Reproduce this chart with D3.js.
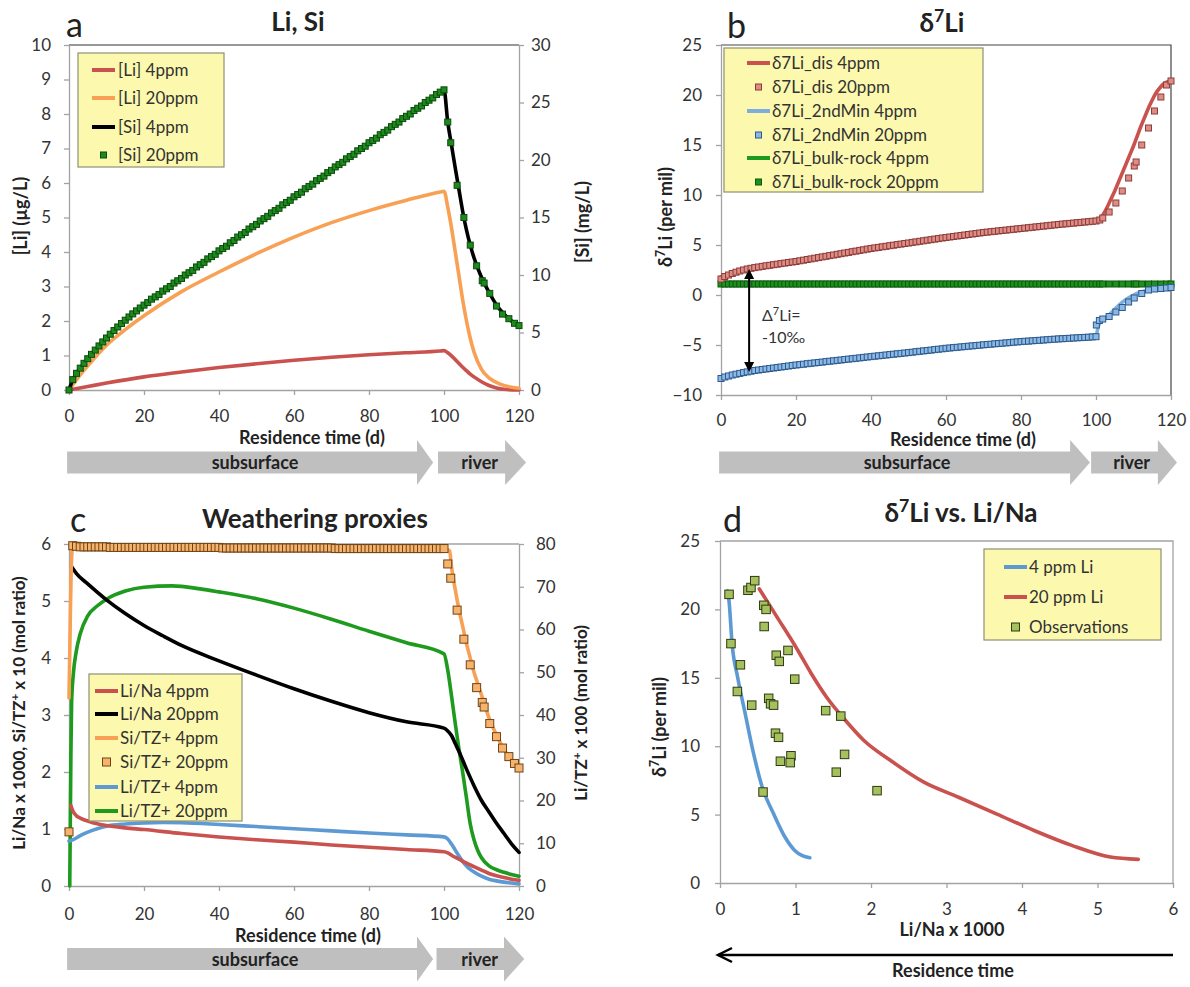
<!DOCTYPE html>
<html><head><meta charset="utf-8">
<script src="https://cdn.jsdelivr.net/npm/d3@7"></script>
<style>body{margin:0;background:#fff}</style>
</head><body>
<script>
// ---------------- DATA ----------------
const timeTicks=[0,20,40,60,80,100,120];
const liTicksA=[0,1,2,3,4,5,6,7,8,9,10];
const siTicksA=[0,5,10,15,20,25,30];
const d7TicksB=[-10,-5,0,5,10,15,20,25];
const ratioTicksC=[0,1,2,3,4,5,6];
const liTzTicksC=[0,10,20,30,40,50,60,70,80];
const liNaTicksD=[0,1,2,3,4,5,6];
const d7TicksD=[0,5,10,15,20,25];

// model output days for the 20 ppm marker series
const dayGrid=[0,1,2,3,4,5,6,7,8,9,10,11,12,13,14,15,16,17,18,19,20,21,22,23,24,25,26,27,28,29,30,31,32,33,34,35,36,37,38,39,40,41,42,43,44,45,46,47,48,49,50,51,52,53,54,55,56,57,58,59,60,61,62,63,64,65,66,67,68,69,70,71,72,73,74,75,76,77,78,79,80,81,82,83,84,85,86,87,88,89,90,91,92,93,94,95,96,97,98,99,100];
const postDays=[101,101.8,103.5,105.3,107,108.7,110.2,110.7,112.2,114,115.6,117.3,118.8,120];
const postDaysMin=[100.1,100.9,101.8,103.5,105.3,107,108.7,110.2,112.2,114,115.6,117.3,118.8,120];

// Panel a
const liA4=[[0,0],[5,0.1],[10,0.2],[20,0.38],[30,0.52],[40,0.65],[50,0.76],[60,0.86],[70,0.95],[80,1.02],[90,1.08],[99,1.13],[100,1.14],[101,1.08],[102,0.99],[103,0.88],[104,0.77],[105,0.66],[106,0.56],[107,0.46],[108,0.38],[110,0.24],[112,0.13],[114,0.06],[116,0.02],[120,0]];
const liA20=[[0,0],[2,0.3],[5,0.7],[10,1.3],[15,1.75],[20,2.15],[30,2.85],[40,3.42],[50,3.95],[60,4.43],[70,4.85],[80,5.2],[90,5.5],[99,5.74],[100,5.76],[101,5.3],[102,4.7],[103,4.0],[104,3.3],[105,2.6],[106,2.0],[107,1.5],[108,1.1],[110,0.6],[112,0.35],[115,0.17],[120,0.05]];
const siA4=[[0,0],[1,0.9],[2,1.45],[4,2.32],[6,3.1],[10,4.52],[15,6.07],[20,7.38],[30,9.7],[50,14.4],[70,19.1],[90,23.8],[99,25.9],[100,26.1],[101,23.3],[102,21.3],[103,19.3],[104,17.4],[105,15.5],[106,13.9],[107,12.6],[108,11.5],[109,10.6],[110,9.8],[112,8.5],[114,7.4],[116,6.6],[118,6.0],[120,5.6]];
const siA20=[0,0.9,1.45,1.9,2.32,2.72,3.1,3.47,3.83,4.18,4.52,4.85,5.17,5.48,5.78,6.07,6.35,6.62,6.88,7.13,7.38,
7.6,7.9,8.1,8.3,8.6,8.8,9.0,9.3,9.5,9.7,
10.0,10.2,10.4,10.7,10.9,11.1,11.4,11.6,11.8,12.1,
12.3,12.5,12.8,13.0,13.3,13.5,13.7,14.0,14.2,14.4,
14.7,14.9,15.1,15.4,15.6,15.8,16.1,16.3,16.5,16.8,
17.0,17.2,17.5,17.7,17.9,18.2,18.4,18.6,18.9,19.1,
19.4,19.6,19.8,20.1,20.3,20.5,20.8,21.0,21.2,21.5,
21.7,21.9,22.2,22.4,22.6,22.9,23.1,23.3,23.6,23.8,
24.0,24.3,24.5,24.7,25.0,25.2,25.4,25.7,25.9,26.1];
const siA20post=[23.3,21.5,17.8,15.0,12.6,10.8,9.5,9.3,8.4,7.3,6.6,6.2,5.8,5.6];

// Panel b
const disB4=[[0,1.8],[2,2.1],[5,2.45],[10,2.8],[20,3.35],[30,4.0],[40,4.65],[50,5.2],[60,5.75],[70,6.25],[80,6.65],[90,7.05],[100,7.4],[101,7.6],[102,8.1],[103,8.8],[104,9.6],[105,10.4],[106,11.3],[107,12.2],[108,13.1],[109,14.0],[110,14.9],[111,15.9],[112,16.9],[113,17.8],[114,18.7],[115,19.5],[116,20.2],[117,20.7],[118,21.1],[119,21.3],[120,21.4]];
const minB4=[[0,-8.3],[5,-7.8],[10,-7.45],[20,-6.95],[30,-6.55],[40,-6.15],[50,-5.75],[60,-5.35],[70,-5.0],[80,-4.68],[90,-4.42],[100,-4.18],[100.5,-3.3],[101,-2.8],[102,-2.45],[104,-1.8],[106,-1.05],[108,-0.45],[110,0.0],[112,0.3],[114,0.5],[116,0.6],[118,0.65],[120,0.7]];
const bulkB4=[[0,1.1],[120,1.1]];
const disB20=[1.6,1.85,2.0,2.15,2.28,2.4,2.5,2.6,2.67,2.74,2.8,
2.86,2.92,2.97,3.03,3.08,3.14,3.19,3.25,3.3,3.35,
3.42,3.48,3.55,3.61,3.68,3.74,3.81,3.87,3.94,4.0,
4.07,4.13,4.2,4.26,4.33,4.39,4.46,4.52,4.59,4.65,
4.71,4.76,4.82,4.87,4.93,4.98,5.04,5.09,5.15,5.2,
5.26,5.31,5.37,5.42,5.48,5.53,5.59,5.64,5.7,5.75,
5.8,5.85,5.9,5.95,6.0,6.05,6.1,6.15,6.2,6.25,
6.29,6.33,6.37,6.41,6.45,6.49,6.53,6.57,6.61,6.65,
6.69,6.73,6.77,6.81,6.85,6.89,6.93,6.97,7.01,7.05,
7.09,7.12,7.16,7.19,7.23,7.26,7.3,7.33,7.37,7.4];
const disB20post=[7.5,7.7,8.3,9.2,10.4,11.7,12.9,13.3,15.0,16.7,18.4,19.8,21.0,21.4];
const minB20=[-8.35,-8.2,-8.1,-8.0,-7.92,-7.84,-7.76,-7.69,-7.62,-7.55,-7.5,
-7.45,-7.4,-7.35,-7.3,-7.25,-7.2,-7.15,-7.1,-7.05,-7.0,
-6.96,-6.92,-6.87,-6.83,-6.79,-6.75,-6.71,-6.66,-6.62,-6.58,
-6.54,-6.5,-6.45,-6.41,-6.37,-6.33,-6.29,-6.24,-6.2,-6.16,
-6.12,-6.08,-6.04,-6.0,-5.96,-5.92,-5.88,-5.84,-5.8,-5.76,
-5.72,-5.67,-5.63,-5.59,-5.55,-5.51,-5.46,-5.42,-5.38,-5.33,
-5.3,-5.26,-5.23,-5.19,-5.16,-5.12,-5.09,-5.05,-5.02,-4.98,
-4.95,-4.92,-4.88,-4.85,-4.82,-4.79,-4.76,-4.72,-4.69,-4.66,
-4.63,-4.61,-4.58,-4.55,-4.53,-4.5,-4.47,-4.44,-4.42,-4.39,
-4.37,-4.35,-4.33,-4.3,-4.28,-4.26,-4.24,-4.22,-4.19,-4.17];
const minB20post=[-3.0,-2.55,-2.4,-2.15,-1.7,-1.25,-0.7,-0.3,0.15,0.5,0.6,0.65,0.7,0.75];
const bulkB20=[1.1,1.1,1.1,1.1,1.1,1.1,1.1,1.1,1.1,1.1,1.1,
1.1,1.1,1.1,1.1,1.1,1.1,1.1,1.1,1.1,1.1,
1.1,1.1,1.1,1.1,1.1,1.1,1.1,1.1,1.1,1.1,
1.1,1.1,1.1,1.1,1.1,1.1,1.1,1.1,1.1,1.1,
1.1,1.1,1.1,1.1,1.1,1.1,1.1,1.1,1.1,1.1,
1.1,1.1,1.1,1.1,1.1,1.1,1.1,1.1,1.1,1.1,
1.1,1.1,1.1,1.1,1.1,1.1,1.1,1.1,1.1,1.1,
1.1,1.1,1.1,1.1,1.1,1.1,1.1,1.1,1.1,1.1,
1.1,1.1,1.1,1.1,1.1,1.1,1.1,1.1,1.1,1.1,
1.1,1.1,1.1,1.1,1.1,1.1,1.1,1.1,1.1,1.1];
const bulkB20post=[1.1,1.1,1.1,1.1,1.1,1.1,1.1,1.1,1.1,1.1,1.1,1.1,1.1,1.1];

// Panel c
const liNaC4=[[0.5,1.41],[1,1.32],[2,1.23],[3,1.19],[5,1.14],[7.5,1.09],[10,1.06],[15,1.02],[20,0.99],[30,0.92],[40,0.86],[50,0.81],[60,0.77],[70,0.72],[80,0.68],[90,0.64],[100,0.6],[101,0.58],[102,0.54],[104,0.47],[106,0.4],[108,0.34],[110,0.28],[112,0.22],[114,0.18],[116,0.15],[118,0.12],[120,0.1]];
const liNaC20=[[0.7,5.6],[2,5.48],[5,5.3],[10,5.02],[15,4.78],[20,4.57],[25,4.39],[30,4.22],[40,3.95],[50,3.7],[60,3.46],[70,3.24],[80,3.04],[90,2.88],[100,2.77],[101,2.72],[102,2.64],[103,2.5],[104,2.36],[106,2.05],[108,1.76],[110,1.5],[112,1.3],[114,1.1],[116,0.92],[118,0.74],[120,0.59]];
const siTzC4=[[0,3.3],[0.3,4.5],[0.6,5.6],[1,5.97],[2,5.95],[10,5.94],[50,5.93],[100,5.92],[101.5,5.88],[102,5.6],[103,5.2],[104,4.85],[105,4.55],[106,4.25],[107,4.0],[108,3.75],[109,3.55],[110,3.35],[112,2.95],[114,2.65],[116,2.4],[118,2.2],[120,2.05]];
const liTzC4=[[0,10.5],[1,10.8],[3,11.8],[5,12.6],[7.5,13.4],[10,14.0],[15,14.5],[20,14.75],[25,14.85],[30,14.8],[40,14.4],[50,13.9],[60,13.4],[70,12.9],[80,12.4],[90,11.95],[100,11.5],[101,11.0],[102,9.8],[103,8.4],[104,7.0],[105,5.7],[106,4.7],[107,3.9],[108,3.3],[110,2.3],[112,1.6],[114,1.2],[116,0.9],[118,0.7],[120,0.5]];
const liTzC20=[[0.2,0],[0.5,30],[0.7,43],[1.2,50],[1.9,54.7],[3,59],[5,63.2],[7.5,65.5],[10,67.1],[15,69],[20,69.9],[27.5,70.2],[35,69.5],[40,68.8],[50,67.2],[60,65.0],[70,62.4],[80,59.6],[90,56.9],[100,54.3],[101,50.5],[102,44.5],[103,38],[104,32],[105,26.5],[106,20.5],[107,14.5],[108,10.8],[109,8.3],[110,6.6],[112,4.7],[114,3.8],[116,3.2],[118,2.7],[120,2.3]];
const siTzC20=[0.95,5.97,5.96,5.95,5.95,5.95,5.95,5.95,5.95,5.95,5.95,
5.94,5.94,5.94,5.94,5.94,5.94,5.94,5.94,5.94,5.94,
5.94,5.94,5.94,5.94,5.94,5.94,5.94,5.94,5.94,5.94,
5.94,5.94,5.94,5.94,5.94,5.94,5.94,5.94,5.94,5.94,
5.93,5.93,5.93,5.93,5.93,5.93,5.93,5.93,5.93,5.93,
5.93,5.93,5.93,5.93,5.93,5.93,5.93,5.93,5.93,5.93,
5.93,5.93,5.93,5.93,5.93,5.93,5.93,5.93,5.93,5.93,
5.92,5.92,5.92,5.92,5.92,5.92,5.92,5.92,5.92,5.92,
5.92,5.92,5.92,5.92,5.92,5.92,5.92,5.92,5.92,5.92,
5.92,5.92,5.92,5.92,5.92,5.92,5.92,5.92,5.92,5.92];
const siTzC20post=[5.65,5.4,4.84,4.33,3.88,3.48,3.22,3.14,2.85,2.62,2.42,2.27,2.15,2.07];

// Panel d
const liNaD4=[[0.10,21.35],[0.12,20.6],[0.16,17.5],[0.235,15.0],[0.335,12.35],[0.435,9.7],[0.56,7.0],[0.71,5.06],[0.86,3.36],[0.99,2.38],[1.09,2.0],[1.19,1.85]];
const liNaD20=[[0.52,21.5],[0.76,19.4],[1.01,17.2],[1.21,15.3],[1.41,13.6],[1.66,11.9],[1.91,10.4],[2.26,8.95],[2.70,7.37],[3.16,6.27],[3.66,5.06],[4.16,3.84],[4.66,2.75],[5.17,1.9],[5.54,1.73]];
const obsLiNa=[0.12,0.145,0.27,0.23,0.42,0.37,0.41,0.46,0.58,0.61,0.585,0.90,0.745,0.785,0.99,0.645,0.67,0.71,1.40,1.60,0.735,0.775,0.94,0.80,0.93,1.65,1.54,0.57,2.08];
const obsD7=[21.1,17.5,15.95,14.0,13.0,21.4,21.6,22.1,20.3,20.0,18.75,17.0,16.65,16.2,14.9,13.5,13.1,13.0,12.6,12.2,10.95,10.65,9.3,8.9,8.8,9.4,8.1,6.65,6.75];

// ---------------- DRAWING ----------------
const FONT='Lato, "Open Sans", "DejaVu Sans", sans-serif';
const C={red:'#C9524E',orange:'#F8A053',black:'#000',blue:'#5D9AD3',green:'#1E9B1E',
 axis:'#a3a3a3',legFill:'#FCF9AE',legStroke:'#8f8f72',bar:'#BFBFBF',text:'#222'};
const fmt=d3.format('d');
const svg=d3.select('body').append('svg').attr('width',1190).attr('height',987);
svg.append('rect').attr('width',1190).attr('height',987).attr('fill','#fff');

function label(x,y,parts,o={}){
  const s=o.size||17;
  const t=svg.append('text').attr('x',x).attr('y',y).attr('font-family',FONT)
    .attr('font-size',s).attr('font-weight',o.bold?'bold':'normal')
    .attr('fill',o.fill||C.text).attr('text-anchor',o.anchor||'start');
  if(o.rotate) t.attr('transform',`rotate(-90,${x},${y})`);
  let pending=0;
  (typeof parts==='string'?[parts]:parts).forEach(p=>{
    if(typeof p==='string'){ const ts=t.append('tspan').text(p); if(pending){ts.attr('dy',pending);pending=0;} }
    else { t.append('tspan').attr('dy',-0.38*s).attr('font-size',s*0.68).text(p.sup); pending=0.38*s; }
  });
  return t;
}
function styleAxis(g){
  g.attr('font-family',FONT).attr('font-size',17);
  g.select('.domain').attr('stroke',C.axis).attr('stroke-width',1.3);
  g.selectAll('.tick line').attr('stroke',C.axis).attr('stroke-width',1.3);
  g.selectAll('.tick text').attr('fill','#333');
}
function lineOn(x,y,data,color,w){
  svg.append('path').datum(data).attr('fill','none').attr('stroke',color).attr('stroke-width',w||3.6)
    .attr('stroke-linejoin','round').attr('stroke-linecap','round')
    .attr('d',d3.line().x(d=>x(d[0])).y(d=>y(d[1])).curve(d3.curveMonotoneX));
}
function squares(x,y,ts,vs,size,fill,stroke){
  const pts=ts.map((t,i)=>[t,vs[i]]);
  svg.append('g').selectAll('rect').data(pts).join('rect')
    .attr('x',d=>x(d[0])-size/2).attr('y',d=>y(d[1])-size/2)
    .attr('width',size).attr('height',size).attr('fill',fill).attr('stroke',stroke).attr('stroke-width',1);
}
function legend(box,items,lx1,lx2,tx){
  svg.append('rect').attr('x',box[0]).attr('y',box[1]).attr('width',box[2]-box[0]).attr('height',box[3]-box[1])
    .attr('fill',C.legFill).attr('stroke',C.legStroke).attr('stroke-width',1.2);
  items.forEach(it=>{
    if(it.line) svg.append('line').attr('x1',lx1).attr('x2',lx2).attr('y1',it.y).attr('y2',it.y)
      .attr('stroke',it.line).attr('stroke-width',4);
    if(it.sq) svg.append('rect').attr('x',(lx1+lx2)/2-it.s/2).attr('y',it.y-it.s/2).attr('width',it.s).attr('height',it.s)
      .attr('fill',it.sq).attr('stroke',it.st).attr('stroke-width',1);
    label(tx,it.y+6,it.label,{size:17,fill:'#333'});
  });
}
function flowBar(x,yMid,p){
  const bh=11, hh=22.5;
  const sub=[[x(p[0]),yMid-bh],[x(p[1]),yMid-bh],[x(p[1]),yMid-hh],[x(p[2]),yMid],[x(p[1]),yMid+hh],[x(p[1]),yMid+bh],[x(p[0]),yMid+bh]];
  const riv=[[x(p[3]),yMid-bh],[x(p[4]),yMid-bh],[x(p[4]),yMid-hh],[x(p[5]),yMid],[x(p[4]),yMid+hh],[x(p[4]),yMid+bh],[x(p[3]),yMid+bh]];
  [sub,riv].forEach(poly=>svg.append('polygon').attr('points',poly.map(d=>d.join(',')).join(' ')).attr('fill',C.bar));
  label(x(49.6),yMid+6.5,'subsurface',{size:18,bold:true,anchor:'middle'});
  label(x(109.5),yMid+6.5,'river',{size:18,bold:true,anchor:'middle'});
}
const allDays=dayGrid.concat(postDays);

// ===== Panel a =====
{
const x=d3.scaleLinear().domain([0,120]).range([69,519]);
const y=d3.scaleLinear().domain([0,10]).range([390,45]);
const y2=d3.scaleLinear().domain([0,30]).range([390,45]);
svg.append('line').attr('x1',69).attr('x2',519).attr('y1',45).attr('y2',45).attr('stroke','#333').attr('stroke-width',1.2);
svg.append('g').attr('transform','translate(0,390)').call(d3.axisBottom(x).tickValues(timeTicks).tickFormat(fmt).tickSize(5).tickPadding(15).tickSizeOuter(0)).call(styleAxis);
svg.append('g').attr('transform','translate(69,0)').call(d3.axisLeft(y).tickValues(liTicksA).tickFormat(fmt).tickSize(5).tickPadding(13).tickSizeOuter(0)).call(styleAxis);
svg.append('g').attr('transform','translate(519,0)').call(d3.axisRight(y2).tickValues(siTicksA).tickFormat(fmt).tickSize(5).tickPadding(7).tickSizeOuter(0)).call(styleAxis);
lineOn(x,y,liA4,C.red); lineOn(x,y,liA20,C.orange); lineOn(x,y2,siA4,C.black);
squares(x,y2,allDays,siA20.concat(siA20post),6,'#1d8a1d','#0a4a0a');
legend([78,53,224,167],[
 {y:70,line:C.red,label:'[Li] 4ppm'},{y:98,line:C.orange,label:'[Li] 20ppm'},
 {y:127,line:C.black,label:'[Si] 4ppm'},{y:155,sq:'#1d8a1d',st:'#0a4a0a',s:6,label:'[Si] 20ppm'}],92,115,118);
label(66,37,'a',{size:34});
label(298,31,'Li, Si',{size:26,bold:true,anchor:'middle'});
label(27,216,'[Li] (µg/L)',{size:18,bold:true,anchor:'middle',rotate:true});
label(589,222,'[Si] (mg/L)',{size:18,bold:true,anchor:'middle',rotate:true});
label(312,444,'Residence time (d)',{size:18,bold:true,anchor:'middle'});
flowBar(x,462.5,[-0.5,92.8,97.1,98.4,116.3,121.9]);
}

// ===== Panel b =====
{
const x=d3.scaleLinear().domain([0,120]).range([721,1171]);
const y=d3.scaleLinear().domain([-10,25]).range([395,45]);
svg.append('path').attr('d','M721,45H1171V395').attr('fill','none').attr('stroke','#444').attr('stroke-width',1.2);
svg.append('g').attr('transform','translate(0,395)').call(d3.axisBottom(x).tickValues(timeTicks).tickFormat(fmt).tickSize(5).tickPadding(14).tickSizeOuter(0)).call(styleAxis);
svg.append('g').attr('transform','translate(721,0)').call(d3.axisLeft(y).tickValues(d7TicksB).tickFormat(fmt).tickSize(5).tickPadding(14).tickSizeOuter(0)).call(styleAxis);
lineOn(x,y,bulkB4,C.green);
squares(x,y,allDays,bulkB20.concat(bulkB20post),6,'#1f8f1f','#0b5a0b');
lineOn(x,y,disB4,C.red);
squares(x,y,allDays,disB20.concat(disB20post),6,'#E08C86','#8a3c38');
lineOn(x,y,minB4,'#7DAEDC');
squares(x,y,dayGrid.concat(postDaysMin),minB20.concat(minB20post),6,'#8CB8E6','#2c5a8c');
// Δ7Li annotation
const ax=x(7.5), a1=y(2.6), a2=y(-7.7);
svg.append('line').attr('x1',ax).attr('x2',ax).attr('y1',a1+9).attr('y2',a2-9).attr('stroke','#000').attr('stroke-width',2);
svg.append('path').attr('d',`M${ax},${a1}l-5,10h10z M${ax},${a2}l-5,-10h10z`).attr('fill','#000');
label(762,321,['Δ',{sup:'7'},'Li='],{size:16,fill:'#333'});
label(762,343,'-10‰',{size:16,fill:'#333'});
legend([724,48,983,192],[
 {y:63,line:C.red,label:'δ7Li_dis 4ppm'},{y:87,sq:'#E08C86',st:'#8a3c38',s:6,label:'δ7Li_dis 20ppm'},
 {y:111,line:'#7DAEDC',label:'δ7Li_2ndMin 4ppm'},{y:135,sq:'#8CB8E6',st:'#2c5a8c',s:6,label:'δ7Li_2ndMin 20ppm'},
 {y:158,line:C.green,label:'δ7Li_bulk-rock 4ppm'},{y:182,sq:'#1f8f1f',st:'#0b5a0b',s:6,label:'δ7Li_bulk-rock 20ppm'}],747,770,772);
label(727,38,'b',{size:34});
label(942,32,['δ',{sup:'7'},'Li'],{size:26,bold:true,anchor:'middle'});
label(672,217,['δ',{sup:'7'},'Li (per mil)'],{size:18,bold:true,anchor:'middle',rotate:true});
label(963,446,'Residence time (d)',{size:18,bold:true,anchor:'middle'});
flowBar(x,462.5,[-0.5,93.1,98.4,98.7,116.5,121.6]);
}

// ===== Panel c =====
{
const x=d3.scaleLinear().domain([0,120]).range([69,519]);
const y=d3.scaleLinear().domain([0,6]).range([886,544]);
const y2=d3.scaleLinear().domain([0,80]).range([886,544]);
svg.append('line').attr('x1',69).attr('x2',519).attr('y1',544).attr('y2',544).attr('stroke',C.axis).attr('stroke-width',1.3);
svg.append('g').attr('transform','translate(0,886)').call(d3.axisBottom(x).tickValues(timeTicks).tickFormat(fmt).tickSize(5).tickPadding(17).tickSizeOuter(0)).call(styleAxis);
svg.append('g').attr('transform','translate(69,0)').call(d3.axisLeft(y).tickValues(ratioTicksC).tickFormat(fmt).tickSize(5).tickPadding(13).tickSizeOuter(0)).call(styleAxis);
svg.append('g').attr('transform','translate(519,0)').call(d3.axisRight(y2).tickValues(liTzTicksC).tickFormat(fmt).tickSize(5).tickPadding(12).tickSizeOuter(0)).call(styleAxis);
lineOn(x,y2,liTzC20,C.green);
lineOn(x,y,liNaC20,C.black);
lineOn(x,y2,liTzC4,C.blue);
lineOn(x,y,liNaC4,C.red);
lineOn(x,y,siTzC4,C.orange);
squares(x,y,allDays,siTzC20.concat(siTzC20post),8,'#F7B36B','#6e4418');
legend([89,674,242,821],[
 {y:691,line:C.red,label:'Li/Na 4ppm'},{y:714,line:C.black,label:'Li/Na 20ppm'},
 {y:738,line:C.orange,label:'Si/TZ+ 4ppm'},{y:762,sq:'#F7B36B',st:'#6e4418',s:8,label:'Si/TZ+ 20ppm'},
 {y:787,line:C.blue,label:'Li/TZ+ 4ppm'},{y:811,line:C.green,label:'Li/TZ+ 20ppm'}],95,118,120);
label(70,532,'c',{size:34});
label(315,528,'Weathering proxies',{size:26,bold:true,anchor:'middle'});
label(25,713,['Li/Na x 1000, Si/TZ',{sup:'+'},' x 10 (mol ratio)'],{size:17,bold:true,anchor:'middle',rotate:true});
label(587,713,['Li/TZ',{sup:'+'},' x 100 (mol ratio)'],{size:17,bold:true,anchor:'middle',rotate:true});
label(308,942,'Residence time (d)',{size:18,bold:true,anchor:'middle'});
flowBar(x,959,[-0.5,92.8,97.1,98.0,116.0,121.4]);
}

// ===== Panel d =====
{
const x=d3.scaleLinear().domain([0,6]).range([720,1173]);
const y=d3.scaleLinear().domain([0,25]).range([883,541]);
svg.append('path').attr('d','M720,541H1173V883').attr('fill','none').attr('stroke',C.axis).attr('stroke-width',1.3);
svg.append('g').attr('transform','translate(0,883)').call(d3.axisBottom(x).tickValues(liNaTicksD).tickFormat(fmt).tickSize(5).tickPadding(15).tickSizeOuter(0)).call(styleAxis);
svg.append('g').attr('transform','translate(720,0)').call(d3.axisLeft(y).tickValues(d7TicksD).tickFormat(fmt).tickSize(5).tickPadding(15).tickSizeOuter(0)).call(styleAxis);
lineOn(x,y,liNaD4,C.blue);
lineOn(x,y,liNaD20,C.red);
squares(x,y,obsLiNa,obsD7,8.5,'#A5C05C','#2e3a12');
legend([984,549,1161,640],[
 {y:567,line:C.blue,label:'4 ppm Li'},{y:597,line:C.red,label:'20 ppm Li'},
 {y:627,sq:'#A5C05C',st:'#2e3a12',s:8,label:'Observations'}],1004,1027,1029);
label(723,532,'d',{size:34});
label(961,522,['δ',{sup:'7'},'Li vs. Li/Na'],{size:26,bold:true,anchor:'middle'});
label(666,727,['δ',{sup:'7'},'Li (per mil)'],{size:18,bold:true,anchor:'middle',rotate:true});
label(952,936,'Li/Na x 1000',{size:18,bold:true,anchor:'middle'});
const ay=955, xl=x(-0.04), xr=x(6);
svg.append('line').attr('x1',xr).attr('x2',xl+1).attr('y1',ay).attr('y2',ay).attr('stroke','#000').attr('stroke-width',2.5);
svg.append('path').attr('d',`M${xl+15},${ay-7}L${xl+1},${ay}L${xl+15},${ay+7}`).attr('fill','none').attr('stroke','#000').attr('stroke-width',2.5);
label(953,977,'Residence time',{size:18,bold:true,anchor:'middle'});
}
</script>
</body></html>
